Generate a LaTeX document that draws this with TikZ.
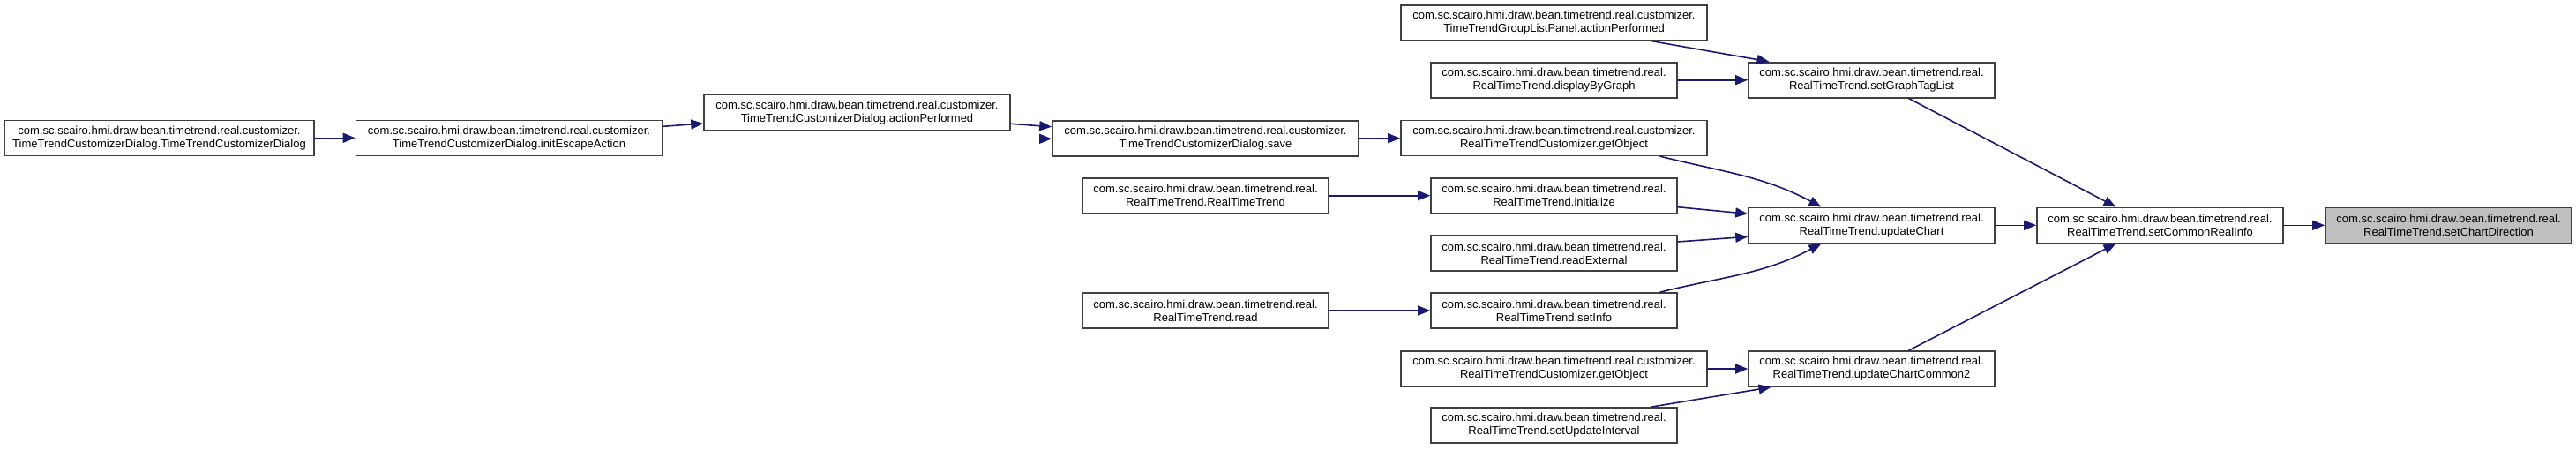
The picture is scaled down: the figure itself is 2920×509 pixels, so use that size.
\documentclass[tikz,border=0pt]{standalone}
\usepackage{fontspec}
\newfontfamily\dxfont{Liberation Sans}
\usetikzlibrary{arrows.meta,calc}
\definecolor{edgeblue}{HTML}{191970}
\definecolor{focusgray}{HTML}{BFBFBF}
\newcommand\pkgreal{com.sc.scairo.hmi.draw.bean.timetrend.real.}
\newcommand\pkgcust{com.sc.scairo.hmi.draw.bean.timetrend.real.customizer.}
\tikzset{
  fnbox/.style={draw=black!75, line width=1.6pt, fill=white, minimum height=40pt,
    inner sep=0pt, align=center, font=\dxfont\fontsize{13}{15}\selectfont},
  narrowbox/.style={fnbox, minimum width=279pt},
  widebox/.style={fnbox, minimum width=347pt},
  focusbox/.style={narrowbox, fill=focusgray},
  calls/.style={draw=edgeblue, line width=1.6pt, -{Triangle[length=14pt,width=11pt]}},
}
\begin{document}
\begin{tikzpicture}[x=1pt,y=-1pt]
\useasboundingbox (0,0) rectangle (2920,509);
% nodes
\node[fnbox, minimum width=351pt] (A) at (180.5,156.3) {\pkgcust\\TimeTrendCustomizerDialog.TimeTrendCustomizerDialog};
\node[widebox] (B) at (577,156.3) {\pkgcust\\TimeTrendCustomizerDialog.initEscapeAction};
\node[widebox] (C) at (971.5,127.3) {\pkgcust\\TimeTrendCustomizerDialog.actionPerformed};
\node[widebox] (D) at (1366.5,156.7) {\pkgcust\\TimeTrendCustomizerDialog.save};
\node[widebox] (E) at (1761.5,25.7) {\pkgcust\\TimeTrendGroupListPanel.actionPerformed};
\node[narrowbox] (F) at (1761.5,90.7) {\pkgreal\\RealTimeTrend.displayByGraph};
\node[narrowbox] (G) at (2121.5,90.7) {\pkgreal\\RealTimeTrend.setGraphTagList};
\node[widebox] (H) at (1761.5,156.3) {\pkgcust\\RealTimeTrendCustomizer.getObject};
\node[narrowbox] (J) at (1366.5,221.7) {\pkgreal\\RealTimeTrend.RealTimeTrend};
\node[narrowbox] (I) at (1761.5,221.7) {\pkgreal\\RealTimeTrend.initialize};
\node[narrowbox] (K) at (1761.5,287) {\pkgreal\\RealTimeTrend.readExternal};
\node[narrowbox] (L) at (2121.5,255.3) {\pkgreal\\RealTimeTrend.updateChart};
\node[narrowbox] (N) at (1366.5,352) {\pkgreal\\RealTimeTrend.read};
\node[narrowbox] (M) at (1761.5,352) {\pkgreal\\RealTimeTrend.setInfo};
\node[widebox] (O) at (1761.5,418) {\pkgcust\\RealTimeTrendCustomizer.getObject};
\node[narrowbox] (P) at (2121.5,418) {\pkgreal\\RealTimeTrend.updateChartCommon2};
\node[narrowbox] (Q) at (1761.5,482) {\pkgreal\\RealTimeTrend.setUpdateInterval};
\node[narrowbox] (R) at (2448.5,255.3) {\pkgreal\\RealTimeTrend.setCommonRealInfo};
\node[focusbox] (S) at (2775.5,255.3) {\pkgreal\\RealTimeTrend.setChartDirection};
% edges
\draw[calls] (A.east) -- (B.west);
\draw[calls] ([yshift=13pt]B.east) -- ([yshift=-12.7pt]C.west);
\draw[calls] ([yshift=-1pt]B.east) -- ([yshift=-0.6pt]D.west);
\draw[calls] ([yshift=-13pt]C.east) -- ([yshift=13pt]D.west);
\draw[calls] (D.east) -- (H.west |- D.east);
\draw[calls] ([xshift=110pt]E.south) -- ([xshift=-116pt]G.north);
\draw[calls] (F.east) -- (G.west);
\draw[calls] ([xshift=42pt]G.south) -- ([xshift=-50pt]R.north);
\draw[calls] ([xshift=120pt]H.south) to[out=-14,in=152] ([xshift=-57pt]L.north);
\draw[calls] (J.east) -- (I.west);
\draw[calls] ([yshift=-13pt]I.east) -- ([yshift=13pt]L.west);
\draw[calls] ([yshift=13pt]K.east) -- ([yshift=-13pt]L.west);
\draw[calls] ([xshift=120pt]M.north) to[out=14,in=-152] ([xshift=-57pt]L.south);
\draw[calls] (N.east) -- (M.west);
\draw[calls] (O.east) -- (P.west);
\draw[calls] ([xshift=110pt]Q.north) -- ([xshift=-114pt]P.south);
\draw[calls] ([xshift=42pt]P.north) -- ([xshift=-50pt]R.south);
\draw[calls] (L.east) -- (R.west);
\draw[calls] (R.east) -- (S.west);
\end{tikzpicture}
\end{document}
